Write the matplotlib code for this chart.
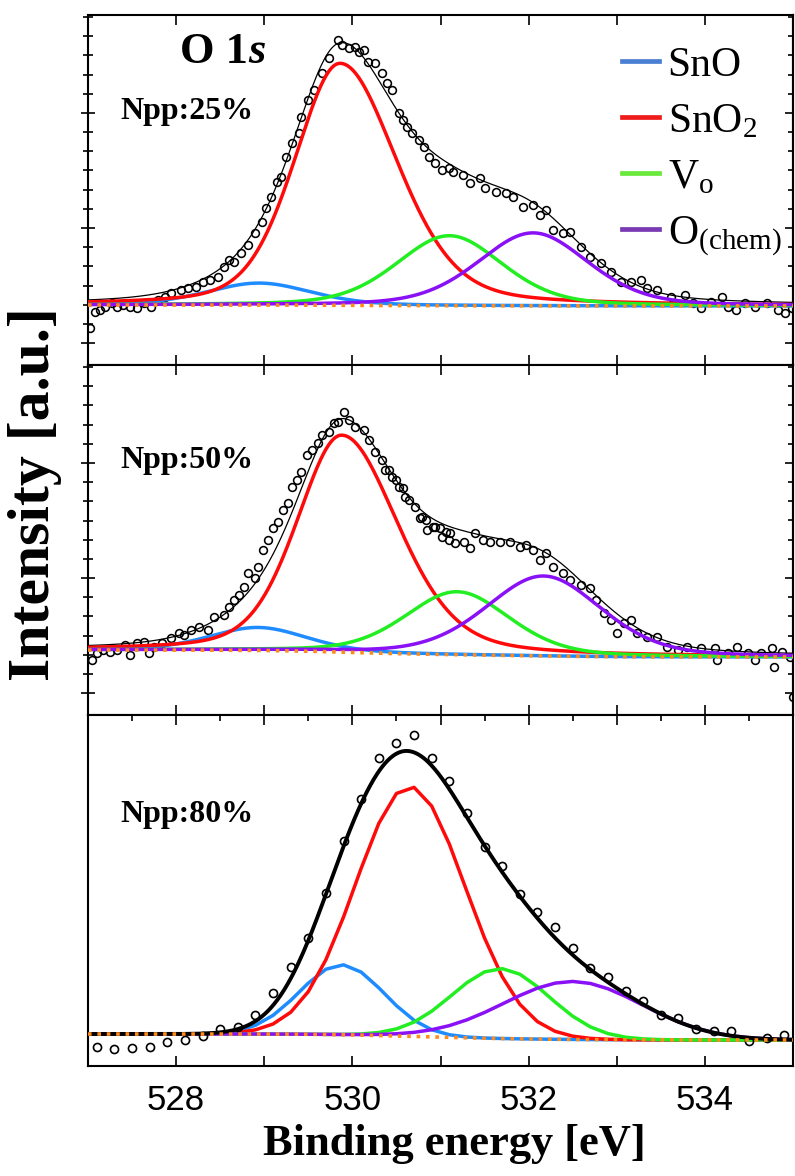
import numpy as np
import matplotlib
matplotlib.use("Agg")
import matplotlib.pyplot as plt
from matplotlib.ticker import FixedLocator, FixedFormatter, NullFormatter
from matplotlib.lines import Line2D

plt.rcParams.update({
    "font.family": ["Liberation Serif", "DejaVu Serif"],
    "mathtext.fontset": "custom",
    "mathtext.rm": "Liberation Serif",
    "mathtext.it": "Liberation Serif:italic",
    "mathtext.bf": "Liberation Serif:bold",
})

# ---------------- measured O 1s spectra (binding energy in eV, counts in a.u.) ----------------
E1 = [527.02, 527.08, 527.14, 527.19, 527.27, 527.33, 527.40, 527.48, 527.56, 527.63, 527.71,
      527.80, 527.87, 527.94, 528.05, 528.13, 528.22, 528.31, 528.39, 528.47, 528.54, 528.60,
      528.66, 528.74, 528.82, 528.89, 528.97, 529.02, 529.08, 529.14, 529.19, 529.25, 529.31,
      529.39, 529.42, 529.50, 529.57, 529.65, 529.74, 529.84, 529.88, 529.96, 530.03, 530.07,
      530.13, 530.18, 530.26, 530.34, 530.39, 530.45, 530.53, 530.57, 530.62, 530.68, 530.76,
      530.81, 530.87, 530.94, 531.02, 531.10, 531.14, 531.25, 531.33, 531.45, 531.51, 531.63,
      531.74, 531.82, 531.94, 532.05, 532.13, 532.20, 532.28, 532.39, 532.47, 532.59, 532.70,
      532.82, 532.93, 533.05, 533.16, 533.27, 533.34, 533.46, 533.62, 533.77, 533.87, 533.96,
      534.07, 534.19, 534.26, 534.35, 534.45, 534.57, 534.71, 534.83, 534.91, 534.99]
I1 = [37, 53, 55, 58, 62, 58, 60, 58, 57, 62, 58,
      65, 68, 72, 75, 77, 78, 83, 85, 88, 98, 105,
      103, 112, 120, 132, 143, 157, 168, 183, 188, 208, 222,
      232, 248, 265, 275, 292, 307, 325, 320, 317, 318, 313,
      315, 303, 302, 292, 282, 275, 252, 245, 238, 232, 225,
      218, 208, 202, 195, 197, 193, 190, 182, 187, 177, 173,
      172, 168, 158, 160, 150, 155, 135, 132, 133, 118, 108,
      102, 93, 83, 83, 85, 77, 75, 68, 70, 62, 57,
      63, 68, 58, 55, 62, 58, 62, 55, 52, 57]

E2 = [527.04, 527.10, 527.17, 527.25, 527.33, 527.42, 527.48, 527.56, 527.63, 527.69, 527.75,
      527.84, 527.94, 528.03, 528.09, 528.17, 528.26, 528.36, 528.43, 528.54, 528.60, 528.66,
      528.71, 528.77, 528.81, 528.89, 528.93, 528.99, 529.04, 529.10, 529.16, 529.21, 529.27,
      529.31, 529.37, 529.42, 529.48, 529.54, 529.61, 529.65, 529.73, 529.79, 529.84, 529.90,
      529.96, 530.03, 530.13, 530.19, 530.26, 530.34, 530.37, 530.41, 530.45, 530.49, 530.53,
      530.57, 530.60, 530.64, 530.71, 530.77, 530.79, 530.83, 530.85, 530.91, 530.94, 530.99,
      531.02, 531.06, 531.10, 531.11, 531.17, 531.27, 531.34, 531.39, 531.48, 531.56, 531.67,
      531.79, 531.90, 531.97, 532.05, 532.13, 532.20, 532.28, 532.39, 532.47, 532.59, 532.70,
      532.77, 532.85, 532.93, 533.00, 533.08, 533.16, 533.23, 533.34, 533.46, 533.57, 533.69,
      533.80, 533.96, 534.11, 534.14, 534.26, 534.37, 534.49, 534.57, 534.64, 534.76, 534.79,
      534.87, 534.97, 535.00]
I2 = [55, 62, 65, 63, 65, 70, 60, 72, 73, 62, 68,
      72, 77, 82, 80, 85, 88, 85, 98, 100, 108, 115,
      120, 128, 142, 137, 148, 165, 175, 187, 193, 205, 212,
      228, 235, 243, 260, 265, 272, 280, 283, 292, 293, 303,
      295, 288, 285, 275, 263, 255, 245, 245, 238, 235, 228,
      227, 218, 215, 208, 197, 198, 195, 185, 188, 188, 187,
      178, 183, 175, 182, 172, 173, 167, 182, 175, 173, 173,
      173, 168, 170, 165, 155, 162, 148, 142, 135, 130, 127,
      115, 102, 95, 82, 92, 95, 82, 78, 78, 68, 65,
      68, 67, 67, 55, 62, 68, 62, 55, 62, 67, 48,
      63, 58, 18]

E3 = [527.1, 527.3, 527.5, 527.7, 527.9, 528.1, 528.3, 528.5, 528.7, 528.9,
      529.1, 529.3, 529.5, 529.7, 529.9, 530.1, 530.3, 530.5, 530.7, 530.9,
      531.1, 531.3, 531.5, 531.7, 531.9, 532.1, 532.3, 532.5, 532.7, 532.9,
      533.1, 533.3, 533.5, 533.7, 533.9, 534.1, 534.3, 534.5, 534.7, 534.9]
I3 = [19, 17, 18, 19, 24, 26, 30, 37, 39, 51,
      73, 99, 128, 173, 225, 267, 308, 323, 331, 308,
      285, 253, 219, 200, 172, 154, 139, 118, 98, 89,
      75, 65, 51, 48, 37, 35, 35, 25, 28, 31]

# ---------------- fitted components: SnO, SnO2, Vo, O(chem) ----------------
COMPONENTS = ["SnO", "SnO$_2$", "V$_\\mathrm{o}$", "O$_{\\mathrm{(chem)}}$"]

CENTER1 = [528.94, 529.86, 531.10, 532.05]
HEIGHT1 = [22, 242, 70, 73]
FWHM_L1 = [1.40, 1.22, 1.42, 1.48]
FWHM_R1 = [1.40, 1.52, 1.42, 1.48]
LOR1 = 0.3
BG1 = (60, 59)          # background at low / high binding energy end

CENTER2 = [528.93, 529.88, 531.19, 532.17]
HEIGHT2 = [23, 217, 63, 80]
FWHM_L2 = [1.30, 1.20, 1.40, 1.55]
FWHM_R2 = [1.30, 1.50, 1.40, 1.55]
LOR2 = 0.3
BG2 = (65, 58)

CENTER3 = [529.88, 530.65, 531.68, 532.50]
HEIGHT3 = [70, 250, 70, 58]
FWHM_L3 = [1.13, 1.44, 1.30, 1.85]
FWHM_R3 = [1.13, 1.48, 1.30, 1.85]
LOR3 = 0.0
BG3 = (32, 26)

SAMPLE_LABELS = ["Npp:25%", "Npp:50%", "Npp:80%"]
XTICK_LABELS = ["528", "530", "532", "534"]

# ---------------- styling ----------------
FIT_COLORS = ["#1e8cff", "#ff0a0a", "#22ee22", "#8a10f5"]
LEGEND_COLORS = ["#4a7fd2", "#f01c1c", "#6ae83c", "#7a3ab4"]
BG_COLOR = "#ff8c1a"
XMIN, XMAX = 527.0, 535.0


def pseudo_voigt(x, c, h, fl, fr, m):
    f = np.where(x < c, fl, fr)
    d2 = 4.0 * (x - c) ** 2 / f ** 2
    return h * ((1 - m) * np.exp(-np.log(2) * d2) + m / (1 + d2))


def shirley(x, total_signal, low, high):
    seg = 0.5 * (total_signal[1:] + total_signal[:-1]) * np.diff(x)
    area = np.concatenate(([0.0], np.cumsum(seg)))
    return high + (low - high) * (area[-1] - area) / area[-1]


fig = plt.figure(figsize=(7.95, 11.76), dpi=100)
W, H = 795.0, 1176.0
left, right = 88 / W, 793 / W
panel_px = [(15, 365), (365, 715), (715, 1066)]
axes = []
for top, bot in panel_px:
    axes.append(fig.add_axes([left, 1 - bot / H, right - left, (bot - top) / H]))

xf = np.linspace(XMIN, XMAX, 801)
panels = [
    (E1, I1, CENTER1, HEIGHT1, FWHM_L1, FWHM_R1, LOR1, BG1),
    (E2, I2, CENTER2, HEIGHT2, FWHM_L2, FWHM_R2, LOR2, BG2),
    (E3, I3, CENTER3, HEIGHT3, FWHM_L3, FWHM_R3, LOR3, BG3),
]

for k, (ax, (E, I, C, Hh, FL, FR, m, bg)) in enumerate(zip(axes, panels)):
    peaks_f = [pseudo_voigt(xf, C[i], Hh[i], FL[i], FR[i], m) for i in range(4)]
    total_f = np.sum(peaks_f, axis=0)
    bg_f = shirley(xf, total_f, *bg)
    envelope = bg_f + total_f

    if k < 2:
        xc, bgc = xf, bg_f
        ax.plot(xf, envelope, color="black", lw=0.9, zorder=2)
        ax.plot(E, I, ls="none", marker="o", ms=5.6, mfc="none", mec="black",
                mew=1.15, zorder=2.5)
        comp_z = 3
    else:
        # last spectrum: components evaluated on the acquisition grid
        xc = np.concatenate(([XMIN], E, [XMAX]))
        bgc = np.interp(xc, xf, bg_f)
        comp_z = 2
    for i in range(4):
        yc = bgc + pseudo_voigt(xc, C[i], Hh[i], FL[i], FR[i], m)
        ax.plot(xc, yc, color=FIT_COLORS[i], lw=2.5, zorder=comp_z)
    if k == 2:
        ax.plot(xf, envelope, color="black", lw=2.8, zorder=3)
        ax.plot(E, I, ls="none", marker="o", ms=5.8, mfc="none", mec="black",
                mew=1.2, zorder=3.5)
    ax.plot(xf, bg_f, color=BG_COLOR, lw=2.6, ls=(0, (1, 1.6)),
            dash_capstyle="butt", zorder=4)

    ax.set_xlim(XMIN, XMAX)
    ax.set_ylim(0, panel_px[k][1] - panel_px[k][0])
    for s in ax.spines.values():
        s.set_linewidth(1.5)

    ax.text(0.0454, [0.703, 0.706, 0.695][k], SAMPLE_LABELS[k], transform=ax.transAxes,
            fontsize=23, fontweight="bold", va="baseline", ha="left")

# ---------------- ticks ----------------
xmaj = list(range(528, 535))
xmin_ = [527.5 + i for i in range(8)]
ymaj = [22, 137, 252]
ymin_ = list(np.arange(22, 350, 115 / 6))

for k, ax in enumerate(axes):
    ax.xaxis.set_major_locator(FixedLocator(xmaj))
    ax.tick_params(axis="x", which="major", direction="in", top=True, bottom=True,
                   length=7, width=1.2)
    if k < 2:
        ax.xaxis.set_major_formatter(NullFormatter())
        ax.yaxis.set_major_locator(FixedLocator(ymaj))
        ax.yaxis.set_minor_locator(FixedLocator(ymin_))
        ax.yaxis.set_major_formatter(NullFormatter())
        ax.tick_params(axis="y", which="major", direction="inout", left=True, right=False,
                       length=10, width=1.2)
        ax.tick_params(axis="y", which="minor", direction="inout", left=True, right=False,
                       length=7, width=1.2)
        sec = ax.secondary_yaxis("right")
        sec.yaxis.set_major_locator(FixedLocator(ymaj))
        sec.yaxis.set_minor_locator(FixedLocator(ymin_))
        sec.yaxis.set_major_formatter(NullFormatter())
        sec.tick_params(axis="y", which="major", direction="in", length=6, width=1.2)
        sec.tick_params(axis="y", which="minor", direction="in", length=3.5, width=1.2)
        sec.spines["right"].set_linewidth(1.5)
    else:
        ax.set_yticks([])
        ax.xaxis.set_minor_locator(FixedLocator(xmin_))
        ax.tick_params(axis="x", which="minor", direction="in", top=True, bottom=False,
                       length=4.5, width=1.2)
        labels = {int(t): t for t in XTICK_LABELS}
        ax.xaxis.set_major_formatter(FixedFormatter([labels.get(v, "") for v in xmaj]))
        ax.tick_params(axis="x", which="major", labelsize=25, pad=13)
        for lab in ax.get_xticklabels():
            lab.set_fontfamily(["Liberation Sans", "DejaVu Sans"])

# ---------------- titles, legend, axis labels ----------------
ax1 = axes[0]
t1 = ax1.text((180 - 88) / 705, 0.837, "O 1", transform=ax1.transAxes, fontsize=32,
              fontweight="bold", va="bottom", ha="left")
ax1.annotate("s", xy=(1, 0), xycoords=t1, fontsize=32, fontweight="bold",
             fontstyle="italic", va="bottom", ha="left")

handles = [Line2D([], [], color=c, lw=3.4) for c in LEGEND_COLORS]
ax1.legend(handles, COMPONENTS, loc="upper left", bbox_to_anchor=(0.757, 0.91),
           frameon=False, fontsize=30, handlelength=0.9, handletextpad=0.2,
           labelspacing=0.42, borderaxespad=0, borderpad=0)

fig.text(35 / W, 1 - 494 / H, "Intensity [a.u.]", rotation=90, ha="center", va="center",
         fontsize=43, fontweight="bold")
fig.text(454 / W, 1 - 1144 / H, "Binding energy [eV]", ha="center", va="center",
         fontsize=32, fontweight="bold")

fig.savefig("out.png", dpi=100)
